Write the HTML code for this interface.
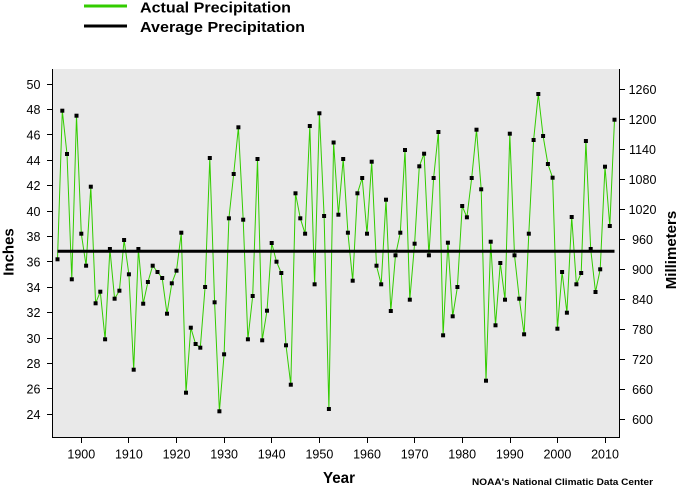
<!DOCTYPE html>
<html><head><meta charset="utf-8">
<style>
html,body{margin:0;padding:0;background:#fff;}
svg{display:block;}
text{font-family:"Liberation Sans",Arial,sans-serif;fill:#000;}
</style></head>
<body>
<svg width="676" height="486" viewBox="0 0 676 486" xmlns="http://www.w3.org/2000/svg">
<defs>
<marker id="m" markerUnits="userSpaceOnUse" markerWidth="6" markerHeight="6" refX="3" refY="3" viewBox="0 0 6 6">
<rect x="1" y="1" width="4" height="4" fill="#000"/>
</marker>
</defs>
<!-- legend -->
<line x1="84" y1="6" x2="127" y2="6" stroke="#33cc00" stroke-width="3"/>
<text x="140" y="12.5" font-size="15" font-weight="bold" textLength="151" lengthAdjust="spacingAndGlyphs">Actual Precipitation</text>
<line x1="84" y1="26" x2="127" y2="26" stroke="#000" stroke-width="3"/>
<text x="140" y="32" font-size="15" font-weight="bold" textLength="165" lengthAdjust="spacingAndGlyphs">Average Precipitation</text>

<!-- plot bg -->
<rect x="52" y="69" width="567" height="368" fill="#e9e9e9"/>

<!-- data -->
<polyline fill="none" stroke="#33cc00" stroke-width="1" stroke-linejoin="round" points="57.5,259.3 62.3,110.7 67.0,154 71.8,279.3 76.5,115.7 81.3,233.7 86.1,265.7 90.8,186.7 95.6,303.3 100.3,291.7 105.1,339.3 109.9,249 114.6,298.7 119.4,290.7 124.1,240 128.9,274.3 133.7,369.7 138.4,249 143.2,303.7 147.9,282 152.7,265.7 157.5,272 162.2,278 167.0,313.7 171.8,283.3 176.5,270.7 181.3,232.7 186.0,392.7 190.8,327.7 195.6,344 200.3,347.7 205.1,287 209.8,158 214.6,302.3 219.4,411.3 224.1,354.3 228.9,218.3 233.7,174 238.4,127.3 243.2,219.7 247.9,339.3 252.7,296 257.5,159 262.2,340.3 267.0,310.7 271.7,243 276.5,261.7 281.3,273 286.0,345.3 290.8,384.7 295.5,193.3 300.3,218.3 305.1,233.7 309.8,126 314.6,284.3 319.4,113.3 324.1,216 328.9,409 333.6,142.5 338.4,214.7 343.2,159 347.9,232.7 352.7,280.7 357.4,193.3 362.2,178 367.0,233.7 371.7,161.7 376.5,265.7 381.2,284.3 386.0,199.7 390.8,311 395.5,255.3 400.3,232.7 405.0,150 409.8,299.7 414.6,243.7 419.3,166.3 424.1,153.7 428.9,255.3 433.6,178 438.4,132 443.1,335.3 447.9,242.7 452.7,316.3 457.4,287 462.2,206 466.9,217.3 471.7,178 476.5,129.7 481.2,189.3 486.0,380.7 490.7,241.7 495.5,325.3 500.3,263 505.0,299.7 509.8,133.7 514.5,255.3 519.3,298.7 524.1,334.3 528.8,233.7 533.6,140 538.3,94 543.1,136 547.9,164 552.6,177.7 557.4,328.7 562.1,272 566.9,312.7 571.7,217 576.4,284.3 581.2,273 585.9,141 590.7,249 595.5,292 600.2,269.3 605.0,166.7 609.8,226 614.5,119.7"/>
<line x1="57.5" y1="251.3" x2="614.5" y2="251.3" stroke="#000" stroke-width="3"/>
<polyline fill="none" stroke="none" marker-start="url(#m)" marker-mid="url(#m)" marker-end="url(#m)" points="57.5,259.3 62.3,110.7 67.0,154 71.8,279.3 76.5,115.7 81.3,233.7 86.1,265.7 90.8,186.7 95.6,303.3 100.3,291.7 105.1,339.3 109.9,249 114.6,298.7 119.4,290.7 124.1,240 128.9,274.3 133.7,369.7 138.4,249 143.2,303.7 147.9,282 152.7,265.7 157.5,272 162.2,278 167.0,313.7 171.8,283.3 176.5,270.7 181.3,232.7 186.0,392.7 190.8,327.7 195.6,344 200.3,347.7 205.1,287 209.8,158 214.6,302.3 219.4,411.3 224.1,354.3 228.9,218.3 233.7,174 238.4,127.3 243.2,219.7 247.9,339.3 252.7,296 257.5,159 262.2,340.3 267.0,310.7 271.7,243 276.5,261.7 281.3,273 286.0,345.3 290.8,384.7 295.5,193.3 300.3,218.3 305.1,233.7 309.8,126 314.6,284.3 319.4,113.3 324.1,216 328.9,409 333.6,142.5 338.4,214.7 343.2,159 347.9,232.7 352.7,280.7 357.4,193.3 362.2,178 367.0,233.7 371.7,161.7 376.5,265.7 381.2,284.3 386.0,199.7 390.8,311 395.5,255.3 400.3,232.7 405.0,150 409.8,299.7 414.6,243.7 419.3,166.3 424.1,153.7 428.9,255.3 433.6,178 438.4,132 443.1,335.3 447.9,242.7 452.7,316.3 457.4,287 462.2,206 466.9,217.3 471.7,178 476.5,129.7 481.2,189.3 486.0,380.7 490.7,241.7 495.5,325.3 500.3,263 505.0,299.7 509.8,133.7 514.5,255.3 519.3,298.7 524.1,334.3 528.8,233.7 533.6,140 538.3,94 543.1,136 547.9,164 552.6,177.7 557.4,328.7 562.1,272 566.9,312.7 571.7,217 576.4,284.3 581.2,273 585.9,141 590.7,249 595.5,292 600.2,269.3 605.0,166.7 609.8,226 614.5,119.7"/>

<!-- axes -->
<g stroke="#000" stroke-width="1" fill="none">
<line x1="52.5" y1="69" x2="52.5" y2="437.5"/>
<line x1="52" y1="437.5" x2="620" y2="437.5"/>
<line x1="619.5" y1="69" x2="619.5" y2="437.5"/>
<!-- left ticks -->
<path d="M47 84.5H52M47 109.5H52M47 134.5H52M47 160.5H52M47 185.5H52M47 211.5H52M47 236.5H52M47 261.5H52M47 287.5H52M47 312.5H52M47 338.5H52M47 363.5H52M47 388.5H52M47 414.5H52"/>
<!-- right ticks -->
<path d="M620 89.5H625M620 119.5H625M620 149.5H625M620 179.5H625M620 209.5H625M620 239.5H625M620 269.5H625M620 299.5H625M620 329.5H625M620 359.5H625M620 389.5H625M620 419.5H625"/>
<!-- bottom ticks -->
<path d="M81.5 438V443M128.5 438V443M176.5 438V443M224.5 438V443M271.5 438V443M319.5 438V443M367.5 438V443M414.5 438V443M462.5 438V443M510.5 438V443M557.5 438V443M605.5 438V443"/>
</g>

<!-- left labels -->
<g font-size="12.5" text-anchor="middle">
<text x="33.5" y="89">50</text>
<text x="33.5" y="114">48</text>
<text x="33.5" y="139.5">46</text>
<text x="33.5" y="165">44</text>
<text x="33.5" y="190">42</text>
<text x="33.5" y="216">40</text>
<text x="33.5" y="241">38</text>
<text x="33.5" y="266.5">36</text>
<text x="33.5" y="292">34</text>
<text x="33.5" y="317">32</text>
<text x="33.5" y="343">30</text>
<text x="33.5" y="368">28</text>
<text x="33.5" y="393.5">26</text>
<text x="33.5" y="419">24</text>
</g>
<!-- right labels -->
<g font-size="12.5" text-anchor="middle">
<text x="642.5" y="94">1260</text>
<text x="642.5" y="124">1200</text>
<text x="642.5" y="154">1140</text>
<text x="642.5" y="184">1080</text>
<text x="642.5" y="214">1020</text>
<text x="642.5" y="244">960</text>
<text x="642.5" y="274">900</text>
<text x="642.5" y="304">840</text>
<text x="642.5" y="334">780</text>
<text x="642.5" y="364">720</text>
<text x="642.5" y="394">660</text>
<text x="642.5" y="424">600</text>
</g>
<!-- bottom labels -->
<g font-size="12.5" text-anchor="middle">
<text x="81.3" y="458.5">1900</text>
<text x="128.9" y="458.5">1910</text>
<text x="176.5" y="458.5">1920</text>
<text x="224.1" y="458.5">1930</text>
<text x="271.7" y="458.5">1940</text>
<text x="319.4" y="458.5">1950</text>
<text x="367" y="458.5">1960</text>
<text x="414.6" y="458.5">1970</text>
<text x="462.2" y="458.5">1980</text>
<text x="509.8" y="458.5">1990</text>
<text x="557.4" y="458.5">2000</text>
<text x="605" y="458.5">2010</text>
</g>

<!-- axis titles -->
<text x="323" y="483" font-size="16" font-weight="bold" textLength="32" lengthAdjust="spacingAndGlyphs">Year</text>
<text transform="translate(13.5,252) rotate(-90)" text-anchor="middle" font-size="15" font-weight="bold">Inches</text>
<text transform="translate(676,250) rotate(-90)" text-anchor="middle" font-size="15" font-weight="bold">Millimeters</text>
<text x="472" y="485" font-size="9" font-weight="bold" textLength="181" lengthAdjust="spacingAndGlyphs">NOAA's National Climatic Data Center</text>
</svg>
</body></html>
